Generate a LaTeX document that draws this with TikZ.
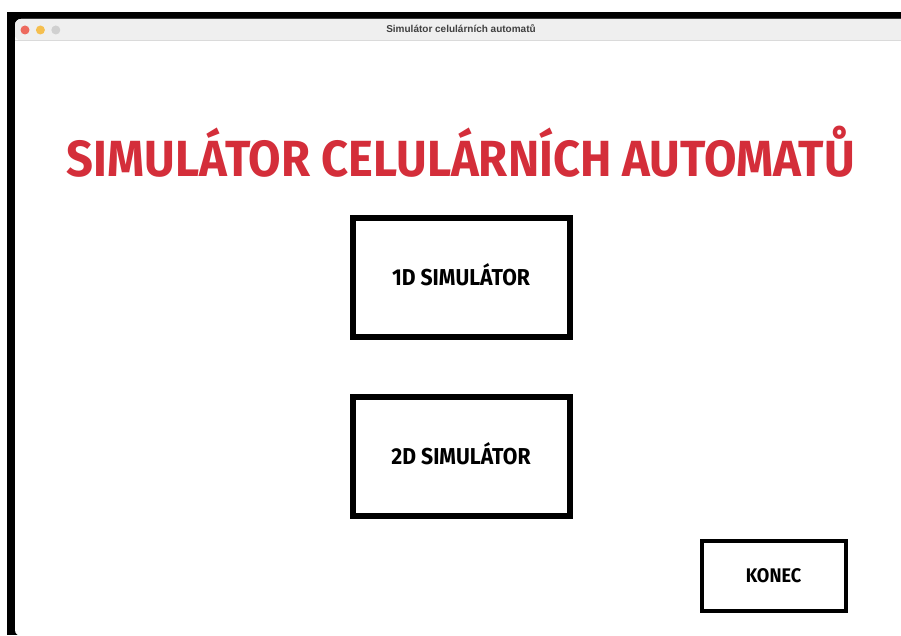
\documentclass[tikz,border=0pt]{standalone}
\usepackage{fontspec}
\usepackage{xcolor}
\usepackage{tikz}
\usetikzlibrary{positioning}
\newfontfamily\menufont{Fira Sans}
\newfontfamily\barfont{Liberation Sans}
\definecolor{titlered}{RGB}{212, 46, 58}
\definecolor{barfill}{RGB}{239, 239, 239}
\definecolor{barline}{RGB}{218, 218, 218}
\definecolor{lightred}{RGB}{237, 106, 94}
\definecolor{lightyellow}{RGB}{245, 191, 79}
\definecolor{lightgray}{RGB}{208, 208, 208}
\newcommand{\narrow}[1]{\scalebox{0.92}[1]{#1}}

\begin{document}
\begin{tikzpicture}[x=1pt, y=1pt,
    menubtn/.style={rectangle, draw=black, fill=white, line width=6pt, minimum width=217pt, minimum height=119pt, inner sep=0pt, text height=16pt, text depth=0pt, font=\menufont\bfseries\fontsize{23}{23}\selectfont},
    endbtn/.style={rectangle, draw=black, fill=white, line width=4pt, minimum width=144pt, minimum height=70pt, inner sep=0pt, text height=13.6pt, text depth=0pt, font=\menufont\bfseries\fontsize{19.7}{20}\selectfont},
    light/.style={circle, inner sep=0pt, minimum size=9pt}]

    \useasboundingbox (0,0) rectangle (901,635);
    \clip (0,0) rectangle (901,635);

    % Window
    \fill[black] (7,0) rectangle (920,623);
    \fill[white, rounded corners=6pt] (15,-1) rectangle (930,616);
    \fill[barfill, rounded corners=6pt] (15,594.5) |- (930,616) |- cycle;
    \draw[barline, line width=1pt] (15,594.5) -- (901,594.5);

    % Title bar
    \node[light, fill=lightred] (close) at (25,605) {};
    \node[light, fill=lightyellow, right=6pt of close] (minimize) {};
    \node[light, fill=lightgray, right=6pt of minimize] (zoom) {};
    \node[font=\barfont\bfseries\fontsize{10}{10}\selectfont, text=black!75] (wintitle) at (461,606) {Simulátor celulárních automatů};

    % Heading
    \node[anchor=base, inner sep=0pt, font=\menufont\bfseries\fontsize{50.8}{51}\selectfont, text=titlered] (heading) at (461,458) {\scalebox{0.927}[1]{SIMULÁTOR CELULÁRNÍCH AUTOMATŮ}};

    % Buttons
    \node[menubtn] (btn1d) at (461,357.5) {\narrow{1D SIMULÁTOR}};
    \node[menubtn, below=54pt of btn1d] (btn2d) {\narrow{2D SIMULÁTOR}};
    \node[endbtn] (konec) at (773.5,59.5) {\narrow{KONEC}};
\end{tikzpicture}
\end{document}
